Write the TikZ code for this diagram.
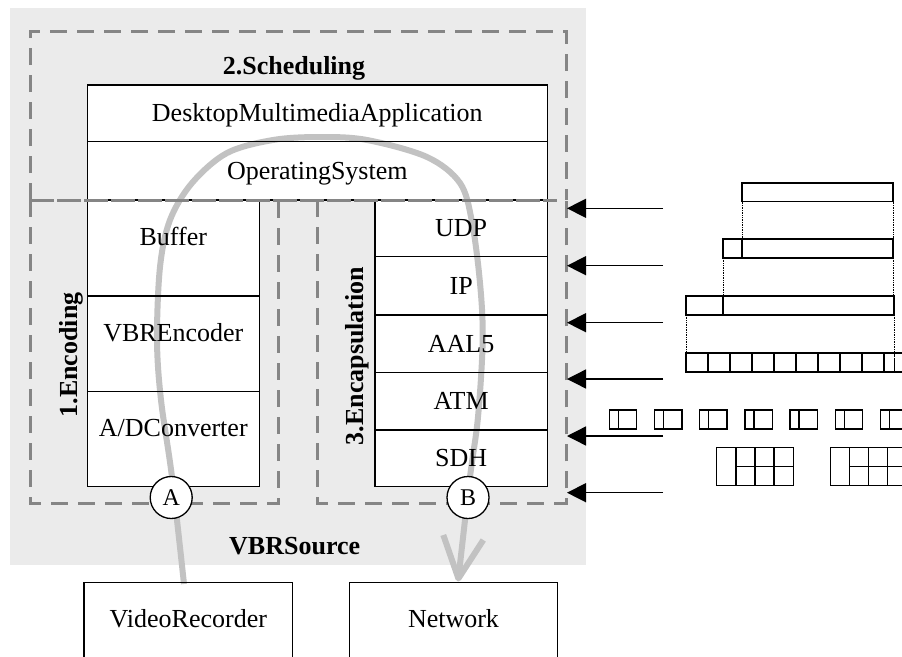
\documentclass[tikz,border=0pt]{standalone}
\usepackage{fontspec}
\setmainfont{Liberation Serif}
\usetikzlibrary{arrows.meta}
\definecolor{bgray}{HTML}{EBEBEB}
\definecolor{dgray}{HTML}{858585}
\definecolor{fgray}{HTML}{C2C2C2}
\pgfdeclarelayer{bglayer}
\pgfdeclarelayer{flowlayer}
\pgfsetlayers{bglayer,flowlayer,main}
\begin{document}
\begin{tikzpicture}[x=1pt,y=-1pt,
  txt/.style={font=\fontsize{26pt}{30pt}\selectfont},
  layer/.style={draw, line width=1.3pt, inner sep=0pt,
    text height=17.2pt, text depth=0pt, txt},
  hdr/.style={font=\bfseries\fontsize{26pt}{30pt}\selectfont,
    text height=17.2pt, text depth=0pt, inner sep=0pt},
  dashbox/.style={dgray, line width=3pt, dash pattern=on 17pt off 10pt},
  sepline/.style={dgray, line width=3pt, dash pattern=on 24pt off 3pt},
  port/.style={circle, draw, fill=white, line width=1.3pt, minimum size=42pt,
    inner sep=0pt, font=\fontsize{24pt}{28pt}\selectfont},
  inarrow/.style={line width=1.4pt, -{Triangle[length=19pt,width=19pt]}},
  cellline/.style={line width=1.5pt},
  guide/.style={densely dotted, line width=0.7pt},
  flow/.style={fgray, line width=6pt}]
\useasboundingbox (0,0) rectangle (902,656);
\clip (0,0) rectangle (902,656);

\begin{pgfonlayer}{bglayer}
% background of the VBR source
\fill[bgray] (10,8) rectangle (586,565);
% dashed regions
\draw[dashbox] (30,200) -- (30,31) -- (566.7,31) -- (566.7,200);
\draw[dashbox] (30,200) -- (30,503) -- (278.7,503) -- (278.7,200);
\draw[dashbox] (317.3,200) -- (317.3,503) -- (566.7,503) -- (566.7,200);
\end{pgfonlayer}

% headers
\node[hdr] (sched) at (294,65.5) {2.Scheduling};
\node[hdr, rotate=90] (enc) at (69,355) {1.Encoding};
\node[hdr, rotate=90] (encap) at (355,356) {3.Encapsulation};
\node[hdr] (src) at (294.7,545.5) {VBRSource};

% layers
\node[layer, minimum width=460pt, minimum height=56.7pt] (dma) at (317.3,113.35) {DesktopMultimediaApplication};
\node[layer, minimum width=460pt, minimum height=58.3pt] (os) at (317.3,170.85) {OperatingSystem};

\node[layer, minimum width=172pt, minimum height=96pt, text depth=22pt] (buf) at (173.3,248) {Buffer};
\node[layer, minimum width=172pt, minimum height=95.7pt, text depth=22pt] (vbr) at (173.3,343.85) {VBREncoder};
\node[layer, minimum width=172pt, minimum height=95pt, text depth=22pt] (adc) at (173.3,439.2) {A/DConverter};

\node[layer, minimum width=172.3pt, minimum height=56.7pt] (udp) at (461.15,228.35) {UDP};
\node[layer, minimum width=172.3pt, minimum height=58.3pt] (ip) at (461.15,285.85) {IP};
\node[layer, minimum width=172.3pt, minimum height=57.3pt] (aal) at (461.15,343.65) {AAL5};
\node[layer, minimum width=172.3pt, minimum height=57.7pt] (atm) at (461.15,401.15) {ATM};
\node[layer, minimum width=172.3pt, minimum height=56.7pt] (sdh) at (461.15,458.35) {SDH};

\node[layer, minimum width=208.7pt, minimum height=90pt, text depth=16.4pt, anchor=north] (vr) at (188.35,581.7) {VideoRecorder};
\node[layer, minimum width=208.4pt, minimum height=90pt, text depth=16.4pt, anchor=north] (net) at (453.5,581.7) {Network};

% white fills of the layers, under the flow line
\begin{pgfonlayer}{bglayer}
\foreach \n in {dma,os,buf,vbr,adc,udp,ip,aal,atm,sdh,vr,net}{
  \fill[white] (\n.north west) rectangle (\n.south east);
}
\end{pgfonlayer}

% data flow
\begin{pgfonlayer}{flowlayer}
\coordinate (flowstart) at (184,584);
\coordinate (nettip) at (458.4,578.5);
\draw[flow] plot[smooth, tension=0.55] coordinates {
  (184,584) (172,477) (161,400) (157,340) (160,267) (170,220) (192,183)
  (227,153) (273,140) (320,137) (367,140) (427,157) (460,183) (472,222)
  (480,283) (482.7,340) (478,417) (470,477) (458.4,578.5)};
\draw[flow, line join=round] (443.3,535) -- (nettip) -- (483.3,540);
\end{pgfonlayer}

% separating line between scheduling and the other two regions
\draw[sepline] (30,200) -- (557,200);

% ports
\node[port] (A) at (171.2,497.5) {A};
\node[port] (B) at (468,497.5) {B};

% incoming arrows
\foreach \i/\yy in {1/208.3,2/265.7,3/322.7,4/379,5/436,6/492.7}{
  \coordinate (s\i) at (663,\yy);
  \coordinate (t\i) at (567,\yy);
  \draw[inarrow] (s\i) -- (t\i);
}

% packet formats
\draw[cellline] (742,183) rectangle (893,201.5);
\draw[cellline] (723,239) rectangle (893,258);
\draw[cellline] (742,239) -- (742,258);
\draw[cellline] (686,296) rectangle (894,315);
\draw[cellline] (723,296) -- (723,315);

\draw[guide] (742,201.5) -- (742,239);
\draw[guide] (893,201.5) -- (893,239);
\draw[guide] (723,258) -- (723,296);
\draw[guide] (893,258) -- (893,296);
\draw[guide] (686,315) -- (686,353);
\draw[guide] (894,315) -- (894,372);

\foreach \k in {0,...,10}{
  \draw[cellline] ({686+22*\k},353) rectangle ++(22,19);
}
\draw[guide] (894,353) -- (894,372);

\foreach \k in {0,...,6}{
  \draw[cellline] ({609.3+45.2*\k},410) rectangle ++(27.4,19);
  \draw[cellline] ({618.3+45.2*\k},410) -- ++(0,19);
}

\foreach \k in {0,1}{
  \draw[cellline] ({716.7+113.6*\k},447.7) rectangle ++(76.6,38);
  \draw[cellline] ({736+113.6*\k},447.7) -- ++(0,38);
  \draw[cellline] ({755+113.6*\k},447.7) -- ++(0,38);
  \draw[cellline] ({774+113.6*\k},447.7) -- ++(0,38);
  \draw[cellline] ({736+113.6*\k},466.7) -- ++(57.3,0);
}
\end{tikzpicture}
\end{document}
